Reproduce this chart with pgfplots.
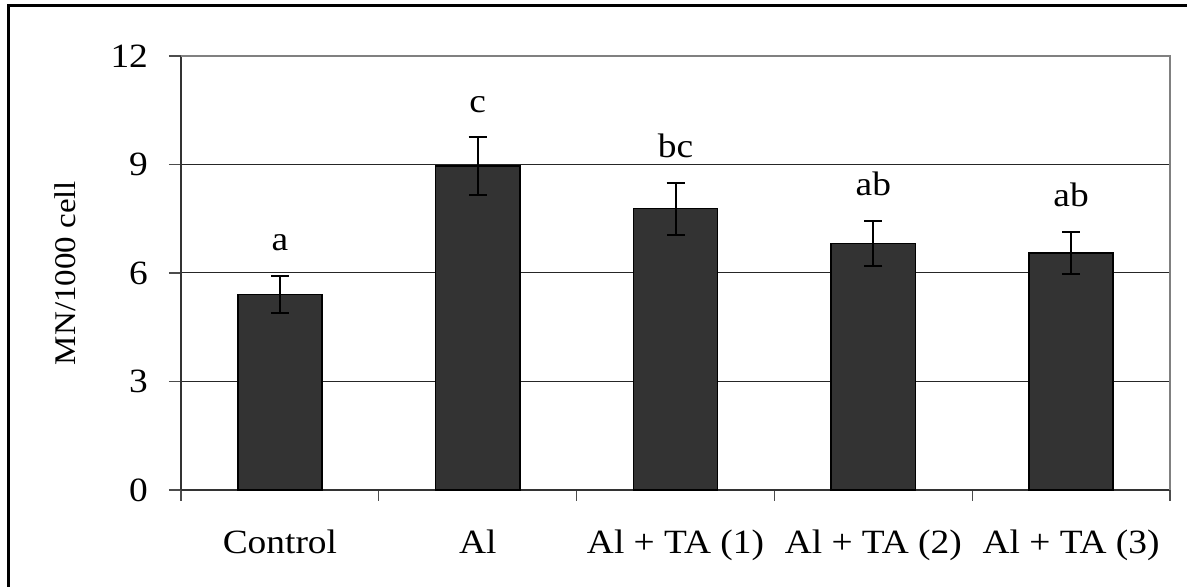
\documentclass[border=0pt]{standalone}
\usepackage{pgfplots}
\pgfplotsset{compat=1.18}
\usepackage{fontspec}
\setmainfont{Liberation Serif}[FakeStretch=1.1]
\begin{document}
\begin{tikzpicture}
\path[use as bounding box] (-90.5pt,-48.5pt) rectangle (503pt,245pt);
\draw[line width=1.5pt,black] (-86pt,-48.5pt) -- (-86pt,242pt) -- (503pt,242pt);
\begin{axis}[
  at={(0,0)}, anchor=south west,
  scale only axis, width=494.5pt, height=217pt,
  xmin=-0.5, xmax=4.5, ymin=0, ymax=12,
  ytick={0,3,6,9,12},
  xtick={0,1,2,3,4},
  xticklabels={Control, Al, Al + TA (1), Al + TA (2), Al + TA (3)},
  minor xtick={-0.5,0.5,1.5,2.5,3.5,4.5},
  major x tick style={draw=none},
  minor x tick style={black!70, line width=0.6pt},
  minor tick length=5.5pt,
  major tick length=6pt,
  tick align=outside,
  ytick style={black!70, line width=0.6pt},
  axis x line*=bottom, axis y line*=left,
  axis line style={black!80, line width=0.7pt, -},
  ymajorgrids, grid style={black!85, line width=0.5pt},
  tick label style={font=\fontsize{17}{20}\selectfont},
  /pgf/number format/assume math mode=true,
  xticklabel style={anchor=base, yshift=-26pt},
  yticklabel style={anchor=east, xshift=-7pt},
  ylabel={MN/1000 cell},
  ylabel style={font=\fontsize{15}{18}\selectfont, at={(axis description cs:0,0.5)}, yshift=58pt, anchor=center},
  clip=false,
]
\addplot[ybar, bar width=0.425, fill=black!80, draw=black, line width=0.8pt,
  error bars/.cd, y dir=both, y explicit,
  error bar style={black, line width=1pt},
  error mark options={rotate=90, mark size=4.5pt, line width=1pt}]
  coordinates {(0,5.41) +- (0,0.51) (1,8.96) +- (0,0.79) (2,7.78) +- (0,0.72) (3,6.82) +- (0,0.62) (4,6.55) +- (0,0.59)};
\addplot[draw=none, mark=none, point meta=explicit symbolic,
  nodes near coords, nodes near coords style={anchor=base, yshift=12.5pt, font=\fontsize{17}{20}\selectfont, black}]
  coordinates {(0,5.92)[a] (1,9.75)[c] (2,8.50)[bc] (3,7.44)[ab] (4,7.14)[ab]};
\draw[black!50, line width=1.2pt] (rel axis cs:0,1) -- (rel axis cs:1,1) -- (rel axis cs:1,0);
\end{axis}
\end{tikzpicture}
\end{document}
